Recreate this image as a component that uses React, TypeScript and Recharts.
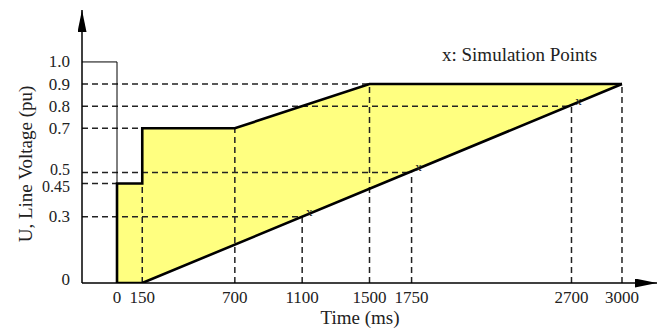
import {
  ComposedChart,
  Area,
  Line,
  Scatter,
  XAxis,
  YAxis,
  ReferenceLine,
} from "recharts";

// time axis (ms) and voltage axis (pu) tick labels
const TICK_T = [0, 150, 700, 1100, 1500, 1750, 2700, 3000];
const TICK_U = [0, 0.3, 0.45, 0.5, 0.7, 0.8, 0.9, 1.0];

// upper boundary of the ride-through region
const UPPER_T = [0, 0, 150, 150, 700, 1500, 3000];
const UPPER_U = [0, 0.45, 0.45, 0.7, 0.7, 0.9, 0.9];
// lower boundary read at the same times
const LOWER_AT_UPPER_U = [0, 0, 0, 0, 0.174, 0.426, 0.9];

// lower boundary line
const LOWER_T = [0, 150, 3000];
const LOWER_U = [0, 0, 0.9];

// pre-fault voltage
const PRE_U = 1.0;

// simulation points
const SIM_T = [1100, 1750, 2700];
const SIM_U = [0.3, 0.5, 0.8];

// dashed guides: horizontal from the axis to a time, vertical from a level down to 0
const H_GUIDE_U = [0.9, 0.8, 0.7, 0.5, 0.45, 0.3];
const H_GUIDE_T = [3000, 2700, 150, 1750, 0, 1100];
const V_GUIDE_T = [150, 700, 1100, 1500, 1750, 2700, 3000];
const V_GUIDE_U = [0.45, 0.7, 0.3, 0.9, 0.5, 0.8, 0.9];

const T_MIN = -208;
const T_MAX = 3208;
const U_MAX = 1.235;

const band = UPPER_T.map((t, i) => ({ t, range: [LOWER_AT_UPPER_U[i], UPPER_U[i]] }));
const upper = UPPER_T.map((t, i) => ({ t, u: UPPER_U[i] }));
const lower = LOWER_T.map((t, i) => ({ t, u: LOWER_U[i] }));
const sims = SIM_T.map((t, i) => ({ t, u: SIM_U[i] }));

const FONT = "'Liberation Serif', 'Times New Roman', serif";
const DASH = { stroke: "#222", strokeWidth: 1.5, strokeDasharray: "6 4" };

const fmtU = (v: number) => (v === 0 ? "0" : v === 1 ? "1.0" : String(v));

// 0.5 and 0.45 sit very close, push them apart a little
const U_NUDGE: Record<string, number> = { "0.5": -3, "0.45": 3, "0": -4 };

const UTick = (props: any) => {
  const v = props.payload.value;
  return (
    <text
      x={props.x}
      y={props.y + (U_NUDGE[String(v)] || 0)}
      textAnchor="end"
      dominantBaseline="central"
      fontFamily={FONT}
      fontSize={v === 0.45 || v === 0.5 ? 16 : 17}
      fill="#222"
    >
      {fmtU(v)}
    </text>
  );
};

const SimMark = (props: any) => (
  <text
    x={props.cx + 7}
    y={props.cy - 1}
    textAnchor="middle"
    fontFamily={FONT}
    fontSize={13}
    fill="#222"
  >
    x
  </text>
);

export default function App() {
  return (
    <div style={{ position: "absolute", left: 0, top: 0, width: 663, height: 329, background: "#fff" }}>
      <svg width={0} height={0} style={{ position: "absolute" }}>
        <defs>
          <marker
            id="axisArrow"
            viewBox="0 0 22 9"
            refX={22}
            refY={4.5}
            markerWidth={22}
            markerHeight={9}
            markerUnits="userSpaceOnUse"
            orient="auto-start-reverse"
          >
            <path d="M0,0 L22,4.5 L0,9 z" fill="#000" />
          </marker>
        </defs>
      </svg>
      <ComposedChart
        width={663}
        height={329}
        margin={{ top: 10, right: 6, bottom: 16, left: 32 }}
      >
        <XAxis
          dataKey="t"
          type="number"
          domain={[T_MIN, T_MAX]}
          allowDataOverflow
          ticks={TICK_T}
          interval={0}
          height={30}
          tickLine={false}
          axisLine={{ stroke: "#000", strokeWidth: 1.5, markerEnd: "url(#axisArrow)" }}
          tick={{ fill: "#222", fontSize: 17, fontFamily: FONT }}
          tickMargin={2}
          label={() => (
            <text x={360} y={324} textAnchor="middle" fontFamily={FONT} fontSize={19} fill="#222">
              Time (ms)
            </text>
          )}
        />
        <YAxis
          type="number"
          domain={[0, U_MAX]}
          allowDataOverflow
          ticks={TICK_U}
          interval={0}
          width={50}
          tickLine={false}
          axisLine={{ stroke: "#000", strokeWidth: 1.5, markerStart: "url(#axisArrow)" }}
          tick={UTick}
          tickMargin={6}
          label={() => (
            <text
              x={25}
              y={164}
              transform="rotate(-90 25 164)"
              textAnchor="middle"
              dominantBaseline="central"
              fontFamily={FONT}
              fontSize={19}
              fill="#222"
            >
              U, Line Voltage (pu)
            </text>
          )}
        />

        <Area
          data={band}
          dataKey="range"
          type="linear"
          fill="#ffff80"
          fillOpacity={1}
          stroke="none"
          isAnimationActive={false}
        />

        {H_GUIDE_U.map((u, i) => (
          <ReferenceLine
            key={"h" + i}
            segment={[{ x: T_MIN, y: u }, { x: H_GUIDE_T[i], y: u }]}
            {...DASH}
          />
        ))}
        {V_GUIDE_T.map((t, i) => (
          <ReferenceLine
            key={"v" + i}
            segment={[{ x: t, y: 0 }, { x: t, y: V_GUIDE_U[i] }]}
            {...DASH}
          />
        ))}

        <ReferenceLine segment={[{ x: T_MIN, y: PRE_U }, { x: 0, y: PRE_U }]} stroke="#000" strokeWidth={1} />
        <ReferenceLine segment={[{ x: 0, y: PRE_U }, { x: 0, y: UPPER_U[1] }]} stroke="#000" strokeWidth={1} />

        <Line
          data={upper}
          dataKey="u"
          type="linear"
          stroke="#000"
          strokeWidth={2.6}
          dot={false}
          activeDot={false}
          isAnimationActive={false}
        />
        <Line
          data={lower}
          dataKey="u"
          type="linear"
          stroke="#000"
          strokeWidth={2.6}
          dot={false}
          activeDot={false}
          isAnimationActive={false}
        />
        <Scatter data={sims} dataKey="u" shape={SimMark} isAnimationActive={false} />
      </ComposedChart>
      <div
        style={{
          position: "absolute",
          left: 442,
          top: 44,
          fontFamily: FONT,
          fontSize: 19,
          color: "#222",
          whiteSpace: "nowrap",
        }}
      >
        x: Simulation Points
      </div>
    </div>
  );
}
